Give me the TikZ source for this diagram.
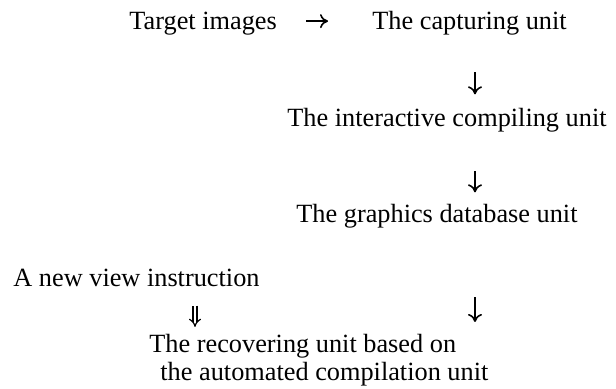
\documentclass[tikz,border=0pt]{standalone}
\usepackage{fontspec}
\setmainfont{Liberation Serif}
\usetikzlibrary{arrows.meta}
\usetikzlibrary{positioning}

\begin{document}
\begin{tikzpicture}[x=0.5pt,y=-0.5pt,
    txt/.style={inner sep=0pt, anchor=base west, font=\fontsize{13.15}{14}\selectfont},
    dn/.style={-{To[length=4pt,width=7pt]}, line width=0.8pt},
    dbl/.style={double equal sign distance, line width=0.6pt, -{Implies}}
    ]
\useasboundingbox (0,0) rectangle (616,389);
\coordinate (col) at (475,0);
\coordinate (dcol) at (195,0);

\node[txt] (target) at (129,30) {Target images};
\node[txt] (capture) at (372,30) {The capturing unit};
\node[txt] (inter) at (287,127) {The interactive compiling unit};
\node[txt] (gdb) at (296,223) {The graphics database unit};
\node[txt] (newview) at (13,287) {A new view instruction};
\node[txt, anchor=north west, align=left] (recov) at (149,334) {The recovering unit based on\\\hspace*{5.5pt}the automated compilation unit};

\draw[dn, shorten <=14.5pt, shorten >=22pt] ([yshift=1.5pt]target.east) -- ([yshift=1.5pt]target.east -| capture.west);
\draw[dn, shorten <=18pt, shorten >=7pt] (capture.south -| col) -- (inter.north -| col);
\draw[dn, shorten <=19pt, shorten >=6pt] (inter.south -| col) -- (gdb.north -| col);
\draw[dn, shorten <=34pt, shorten >=6pt] (gdb.south -| col) -- (recov.north -| col);
\draw[dbl, shorten <=9pt, shorten >=3.5pt] (newview.south -| dcol) -- (recov.north -| dcol);
\end{tikzpicture}
\end{document}
